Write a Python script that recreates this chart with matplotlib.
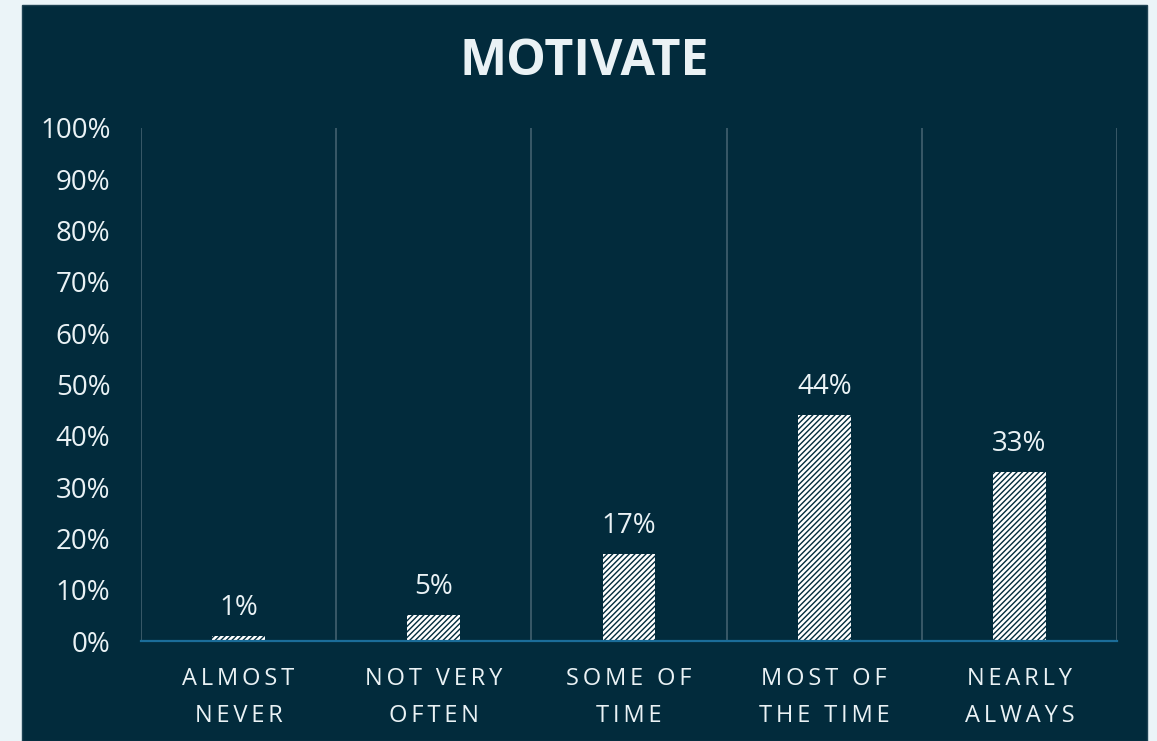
import matplotlib
matplotlib.use("Agg")
import matplotlib.pyplot as plt
from matplotlib.patches import Rectangle

# 데이터
categories = ["ALMOST\nNEVER", "NOT VERY\nOFTEN", "SOME OF\nTIME", "MOST OF\nTHE TIME", "NEARLY\nALWAYS"]
values = [1, 5, 17, 44, 33]
y_ticks = [0, 10, 20, 30, 40, 50, 60, 70, 80, 90, 100]
title = "MOTIVATE"

# 색상
outer_bg = "#EBF4F8"
panel_bg = "#022B3C"
text_col = "#EAF2F5"
grid_col = "#3D5C6B"
axis_col = "#1B6D99"

plt.rcParams["font.family"] = ["Open Sans", "DejaVu Sans"]
plt.rcParams["hatch.linewidth"] = 1.0


def spaced(s):
    # 글자 간격 넓히기 (thin space)
    return "\n".join("\u2009".join(line) for line in s.split("\n"))


fig = plt.figure(figsize=(11.57, 7.41), dpi=100, facecolor=outer_bg)
# 어두운 배경 패널
fig.patches.append(Rectangle((22 / 1157, 0), 1125 / 1157, 736 / 741,
                             transform=fig.transFigure, facecolor=panel_bg,
                             edgecolor="#1E4253", linewidth=1, zorder=-5))

ax = fig.add_axes([141 / 1157, 1 - 641 / 741, 976 / 1157, 513 / 741])
ax.set_facecolor("none")

x = list(range(len(categories)))
bars = ax.bar(x, values, width=0.27, color="white", edgecolor=panel_bg,
              linewidth=0, hatch="//////", zorder=3)

for xi, v in zip(x, values):
    ax.annotate(f"{v}%", (xi, v), xytext=(0, 10), textcoords="offset points",
                ha="center", va="bottom", color=text_col, fontsize=20)

ax.set_xlim(-0.5, len(categories) - 0.5)
ax.set_ylim(0, 100)
ax.set_yticks(y_ticks)
ax.set_yticklabels([f"{t}%" for t in y_ticks], color=text_col, fontsize=20)
ax.set_xticks(x)
ax.set_xticklabels([spaced(c) for c in categories], color=text_col, fontsize=17,
                   linespacing=1.7)
ax.tick_params(axis="both", length=0)
ax.tick_params(axis="y", pad=22)
ax.tick_params(axis="x", pad=19)

# 카테고리 경계 세로선
ax.set_xticks([i - 0.5 for i in range(len(categories) + 1)], minor=True)
ax.tick_params(axis="x", which="minor", length=0)
ax.grid(axis="x", which="minor", color=grid_col, linewidth=1.3, zorder=1)

for side in ["top", "right", "left"]:
    ax.spines[side].set_visible(False)
ax.spines["bottom"].set_color(axis_col)
ax.spines["bottom"].set_linewidth(1.6)
ax.spines["bottom"].set_zorder(4)

fig.text(584 / 1157, 1 - 62 / 741, title,
         ha="center", va="center", color=text_col, fontsize=36, fontweight="bold")

fig.savefig("out.png", dpi=100, facecolor=outer_bg)
